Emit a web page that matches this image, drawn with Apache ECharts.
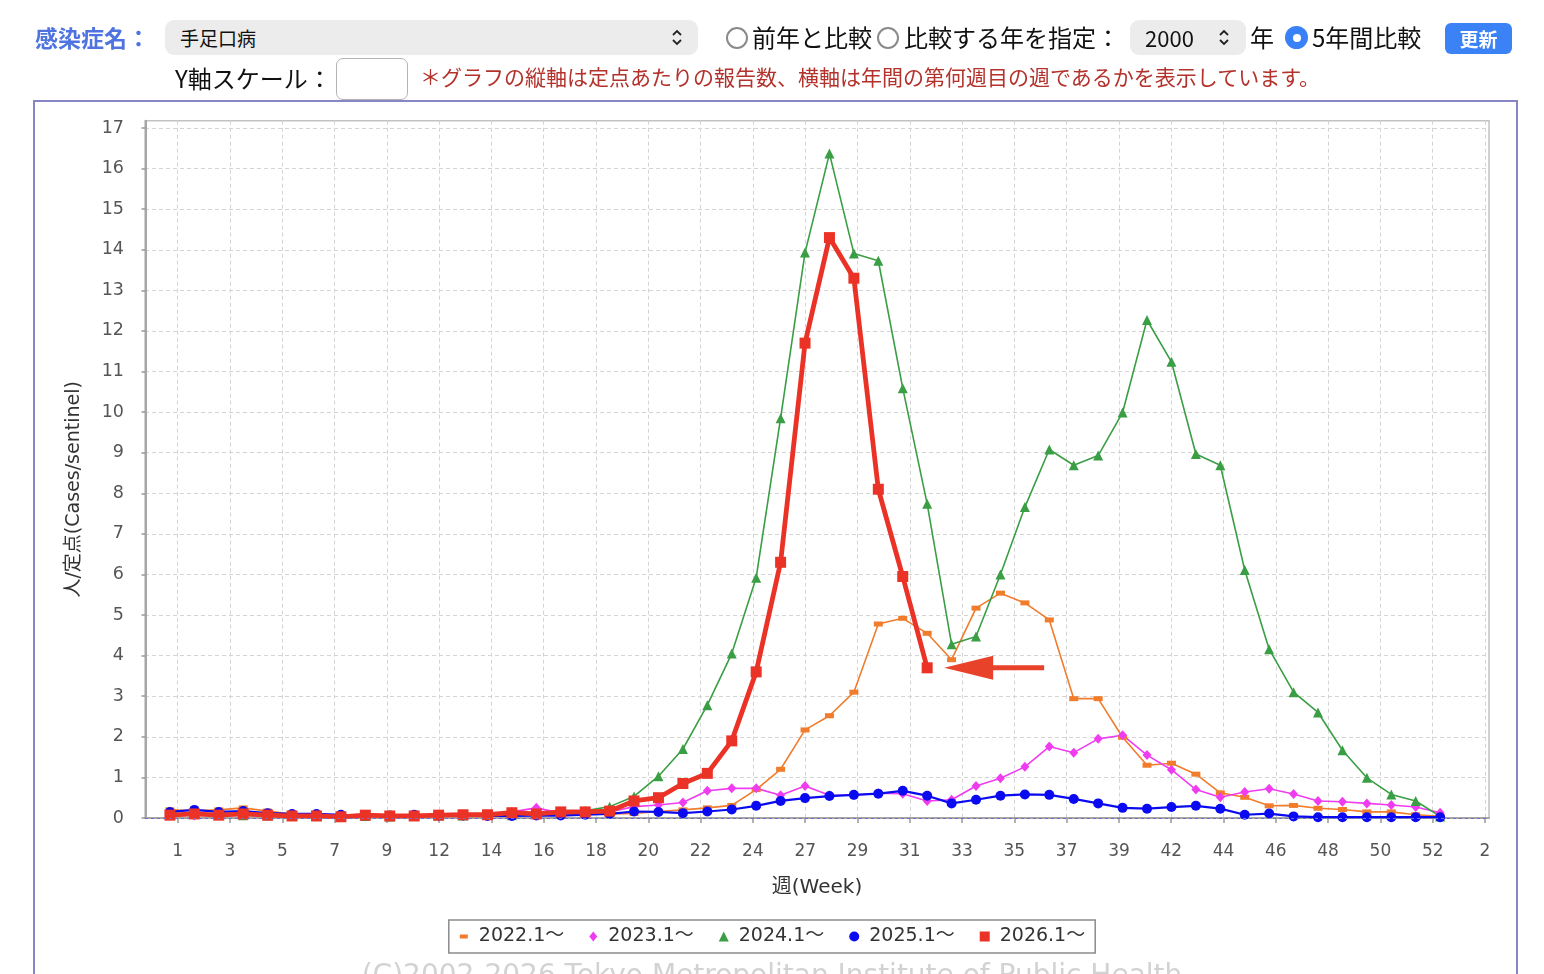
<!DOCTYPE html>
<html>
<head>
<meta charset="utf-8">
<script src="https://cdn.jsdelivr.net/npm/echarts@6/dist/echarts.min.js"></script>
<style>
html,body{margin:0;padding:0;background:#fff;width:1544px;height:974px;overflow:hidden;font-family:'Noto Sans CJK JP',sans-serif;}
.a{position:absolute;white-space:nowrap;z-index:3;}
.t{font-size:24px;color:#111;line-height:34px;}
.sel{background:#ececec;border-radius:9px;}
.radio{width:18px;height:18px;border:2.5px solid #8a8a8a;border-radius:50%;background:#fff;}
.radio.on{border:none;width:23px;height:23px;background:#3a80f6;}
.radio.on:after{content:'';position:absolute;left:7.5px;top:7.5px;width:8px;height:8px;border-radius:50%;background:#fff;}
#frame{position:absolute;left:33px;top:100px;width:1481px;height:900px;border:2px solid #8686c4;z-index:1;}
#chart{position:absolute;left:0;top:0;width:1544px;height:974px;z-index:2;}
</style>
</head>
<body>
<div id="frame"></div>
<div id="chart"></div>

<!-- controls row 1 -->
<div class="a t" style="left:35px;top:20px;font-weight:bold;color:#4f74df;font-size:23px;">感染症名：</div>
<div class="a sel" style="left:165px;top:20px;width:533px;height:35px;">
  <span style="position:absolute;left:15px;top:0;line-height:35px;font-size:19px;color:#111;">手足口病</span>
  <svg style="position:absolute;left:506px;top:8px" width="12" height="19" viewBox="0 0 12 19"><path d="M2 7 L6 3 L10 7 M2 12 L6 16 L10 12" fill="none" stroke="#222" stroke-width="1.8"/></svg>
</div>
<div class="a radio" style="left:726px;top:27px;"></div>
<div class="a t" style="left:752px;top:20px;">前年と比較</div>
<div class="a radio" style="left:877px;top:27px;"></div>
<div class="a t" style="left:904px;top:20px;">比較する年を指定：</div>
<div class="a sel" style="left:1130px;top:20px;width:116px;height:35px;">
  <span style="position:absolute;left:15px;top:0;line-height:35px;font-size:22px;color:#111;">2000</span>
  <svg style="position:absolute;left:88px;top:8px" width="12" height="19" viewBox="0 0 12 19"><path d="M2 7 L6 3 L10 7 M2 12 L6 16 L10 12" fill="none" stroke="#222" stroke-width="1.8"/></svg>
</div>
<div class="a t" style="left:1250px;top:20px;">年</div>
<div class="a radio on" style="left:1285px;top:26px;"></div>
<div class="a t" style="left:1312px;top:20px;">5年間比較</div>
<div class="a" style="left:1445px;top:23px;width:67px;height:31px;background:#3b82f6;border-radius:6px;color:#fff;font-size:19px;font-weight:bold;text-align:center;line-height:31px;">更新</div>

<!-- controls row 2 -->
<div class="a t" style="left:175px;top:61px;">Y軸スケール：</div>
<div class="a" style="left:336px;top:58px;width:70px;height:40px;border:1px solid #b4b4b4;border-radius:7px;background:#fff;"></div>
<div class="a" style="left:420px;top:60px;font-size:21px;line-height:32px;color:#b3322c;">＊グラフの縦軸は定点あたりの報告数、横軸は年間の第何週目の週であるかを表示しています。</div>

<script>
// 週番号（データの横位置）
var weeks = [1,2,3,4,5,6,7,8,9,10,11,12,13,14,15,16,17,18,19,20,21,22,23,24,25,26,27,
             28,29,30,31,32,33,34,35,36,37,38,39,40,41,42,43,44,45,46,47,48,49,50,51,52,53];
// 横軸の目盛りラベル
var weekLabels = ['1','3','5','7','9','12','14','16','18','20','22','24','27','29','31','33',
                  '35','37','39','42','44','46','48','50','52','2'];
var yTicks = [0,1,2,3,4,5,6,7,8,9,10,11,12,13,14,15,16,17];

var names = ['2022.1～','2023.1～','2024.1～','2025.1～','2026.1～'];

var y2022 = [0.2,0.18,0.2,0.25,0.17,0.1,0.07,0.06,0.05,0.05,0.05,0.05,0.06,0.06,0.07,0.08,0.08,0.1,
             0.1,0.11,0.16,0.2,0.25,0.31,0.7,1.2,2.17,2.52,3.1,4.78,4.92,4.55,3.9,5.17,5.54,5.3,4.88,
             2.94,2.94,1.99,1.3,1.35,1.08,0.62,0.51,0.3,0.31,0.24,0.21,0.15,0.15,0.08,0.04];
var y2023 = [0.08,0.06,0.07,0.06,0.05,0.05,0.04,0.04,0.04,0.04,0.05,0.05,0.06,0.08,0.15,0.25,0.12,0.12,
             0.15,0.28,0.32,0.38,0.67,0.73,0.73,0.56,0.79,0.56,0.56,0.61,0.6,0.42,0.45,0.79,0.98,1.26,1.76,
             1.61,1.95,2.04,1.55,1.19,0.7,0.51,0.64,0.72,0.59,0.42,0.4,0.36,0.32,0.27,0.13];
var y2024 = [0.12,0.1,0.08,0.07,0.06,0.05,0.05,0.04,0.05,0.04,0.05,0.06,0.06,0.08,0.07,0.1,0.12,0.18,
             0.28,0.53,1.03,1.7,2.78,4.05,5.92,9.85,13.93,16.37,13.91,13.73,10.59,7.74,4.28,4.47,6.0,7.66,9.08,
             8.69,8.93,9.99,12.27,11.24,8.97,8.69,6.11,4.16,3.1,2.6,1.67,0.99,0.58,0.42,0.04];
var y2025 = [0.15,0.2,0.15,0.17,0.12,0.1,0.1,0.08,0.07,0.06,0.08,0.06,0.06,0.05,0.05,0.06,0.06,0.08,
             0.1,0.16,0.15,0.12,0.16,0.21,0.3,0.42,0.49,0.54,0.57,0.6,0.67,0.55,0.36,0.45,0.55,0.58,0.57,
             0.47,0.36,0.25,0.23,0.27,0.3,0.23,0.08,0.11,0.04,0.02,0.02,0.02,0.02,0.02,0.02];
var y2026 = [0.07,0.1,0.07,0.1,0.07,0.05,0.05,0.03,0.07,0.05,0.05,0.07,0.08,0.08,0.13,0.1,0.15,0.15,
             0.17,0.42,0.5,0.85,1.1,1.9,3.6,6.3,11.7,14.3,13.3,8.1,5.95,3.7];

var FONT = "'DejaVu Sans','Noto Sans CJK JP',sans-serif";
var colors = ['#f07c2c','#f03cf0','#3a9e44','#0a0af0','#ea3326'];

var pairs = function(vals){
    return vals.map(function(v,i){ return [weeks[i], v]; });
};

var chart = echarts.init(document.getElementById('chart'));

var lastIdx = y2026.length - 1;

var option = {
    animation: false,
    textStyle: {fontFamily: FONT},
    grid: [
        {left:145, top:120.7, width:1344, height:697.3, show:true, backgroundColor:'#fff',
         borderColor:'#c2c2c2', borderWidth:1.5},
        {left:177.7, top:120.7, width:1307.3, height:697.3}
    ],
    xAxis: [
        {type:'value', gridIndex:0, min:-0.02, max:55, offset:10,
         axisLine:{show:true, lineStyle:{color:'#a6a6a6', width:2}},
         axisTick:{show:false}, axisLabel:{show:false}, splitLine:{show:false},
         name:'週(Week)', nameLocation:'middle', nameGap:50,
         nameTextStyle:{fontSize:20, color:'#333', fontFamily:FONT}},
        {type:'category', gridIndex:1, data:weekLabels, boundaryGap:false, offset:10,
         axisLine:{show:false},
         axisTick:{show:true, interval:0, length:5, lineStyle:{color:'#999', width:1.5}},
         axisLabel:{interval:0, fontSize:17, color:'#555', margin:15, fontFamily:FONT},
         splitLine:{show:true, interval:0, lineStyle:{color:'#d4d4d4', width:1, type:[4,3]}}}
    ],
    yAxis: [
        {type:'value', gridIndex:0, min:0, max:17.18, interval:1, offset:9,
         axisLine:{show:true, lineStyle:{color:'#a6a6a6', width:2}},
         axisTick:{show:true, length:4, customValues:yTicks, lineStyle:{color:'#999', width:1.5}},
         axisLabel:{fontSize:17.5, color:'#555', margin:12, customValues:yTicks, fontFamily:FONT},
         splitLine:{show:true, lineStyle:{color:'#d4d4d4', width:1, type:[4,3]}},
         name:'人/定点(Cases/sentinel)', nameLocation:'middle', nameGap:52,
         nameTextStyle:{fontSize:19, color:'#333', fontFamily:FONT, padding:[0,40,0,0]}},
        {type:'value', gridIndex:1, min:0, max:1, show:false}
    ],
    legend: {
        left:'center', top:920, orient:'horizontal',
        borderColor:'#8c8c8c', borderWidth:1.5, padding:[7,10],
        itemWidth:20, itemHeight:10, itemGap:25,
        textStyle:{fontSize:19, color:'#333', fontFamily:FONT},
        data: [
            {name:names[0], icon:'path://M0,0M10,10M1,3h8v4h-8z'},
            {name:names[1], icon:'path://M5,0L9,5L5,10L1,5Z'},
            {name:names[2], icon:'path://M5,0L10,10L0,10Z'},
            {name:names[3], icon:'circle'},
            {name:names[4], icon:'path://M0,0h10v10h-10z'}
        ]
    },
    graphic: [
        {type:'text', left:'center', top:963,
         style:{text:'(C)2002-2026 Tokyo Metropolitan Institute of Public Health',
                fontSize:28, fill:'#d2d2d2', fontFamily:FONT}}
    ],
    series: [
        {name:names[0], type:'line', data:pairs(y2022), color:colors[0],
         symbol:'rect', symbolSize:[9,5], lineStyle:{width:1.6},
         markLine:{silent:true, symbol:'none', label:{show:false},
                   lineStyle:{color:'#6d6dd6', width:1, type:[3,3]}, data:[{yAxis:0}]}},
        {name:names[1], type:'line', data:pairs(y2023), color:colors[1],
         symbol:'diamond', symbolSize:[9,10], lineStyle:{width:1.6}},
        {name:names[2], type:'line', data:pairs(y2024), color:colors[2],
         symbol:'triangle', symbolSize:[10,10], lineStyle:{width:1.6}},
        {name:names[3], type:'line', data:pairs(y2025), color:colors[3],
         symbol:'circle', symbolSize:10, lineStyle:{width:2.2}},
        {name:names[4], type:'line', data:pairs(y2026), color:colors[4],
         symbol:'rect', symbolSize:11, lineStyle:{width:4.8},
         markPoint:{
             silent:true,
             symbol:'path://M0,24.5L49,0L49,19.5L100,19.5L100,29.5L49,29.5L49,49Z',
             symbolSize:[100,49], symbolOffset:[67,0], symbolKeepAspect:true,
             itemStyle:{color:'#e8432a'}, label:{show:false},
             data:[{coord:[weeks[lastIdx], y2026[lastIdx]]}]
         }}
    ]
};

chart.setOption(option);
</script>
</body>
</html>
